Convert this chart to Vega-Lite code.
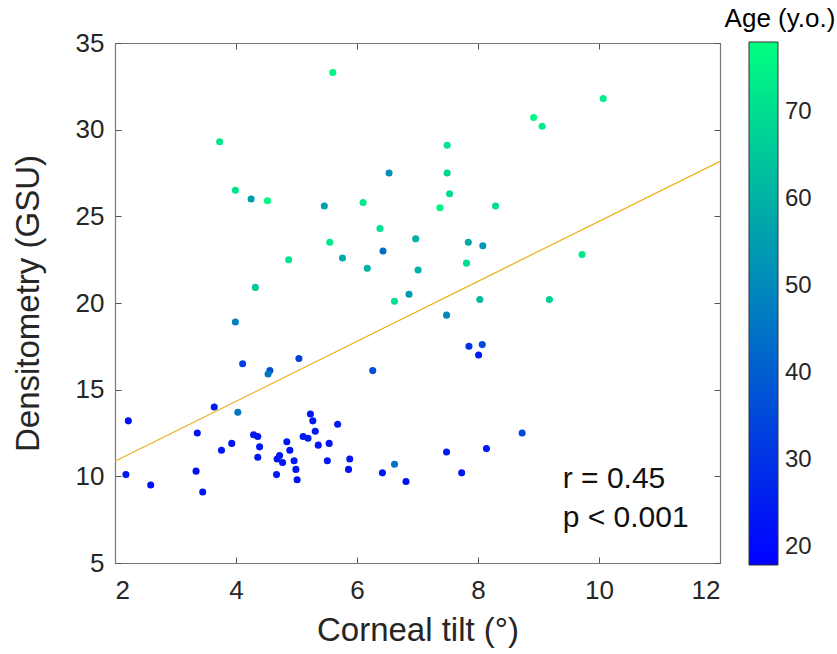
{
  "$schema": "https://vega.github.io/schema/vega-lite/v6.json",
  "width": 605,
  "height": 520,
  "autosize": {"type": "none"},
  "padding": {"left": 115, "top": 43, "right": 117, "bottom": 91},
  "background": "white",
  "config": {
    "view": {"stroke": null},
    "font": "Liberation Sans",
    "axis": {
      "grid": false,
      "domainColor": "#777777",
      "domainWidth": 1.2,
      "tickColor": "#555555",
      "tickSize": -6,
      "labelColor": "#262626",
      "titleColor": "#262626",
      "labelFont": "Liberation Sans",
      "titleFont": "Liberation Sans",
      "titleFontWeight": "normal",
      "labelFontSize": 26,
      "titleFontSize": 33
    },
    "legend": {
      "labelFont": "Liberation Sans",
      "titleFont": "Liberation Sans"
    }
  },
  "datasets": {
    "points": [
      {"tilt": 5.60, "dens": 33.3, "age": 75},
      {"tilt": 3.73, "dens": 29.3, "age": 72},
      {"tilt": 3.99, "dens": 26.5, "age": 72},
      {"tilt": 4.25, "dens": 26.0, "age": 55},
      {"tilt": 4.52, "dens": 25.9, "age": 77},
      {"tilt": 5.46, "dens": 25.6, "age": 56},
      {"tilt": 6.10, "dens": 25.8, "age": 73},
      {"tilt": 6.53, "dens": 27.5, "age": 52},
      {"tilt": 6.38, "dens": 24.3, "age": 71},
      {"tilt": 5.55, "dens": 23.5, "age": 73},
      {"tilt": 6.97, "dens": 23.7, "age": 60},
      {"tilt": 6.43, "dens": 23.0, "age": 44},
      {"tilt": 4.87, "dens": 22.5, "age": 72},
      {"tilt": 5.76, "dens": 22.6, "age": 58},
      {"tilt": 6.17, "dens": 22.0, "age": 60},
      {"tilt": 7.01, "dens": 21.9, "age": 60},
      {"tilt": 4.32, "dens": 20.9, "age": 65},
      {"tilt": 6.62, "dens": 20.1, "age": 70},
      {"tilt": 6.86, "dens": 20.5, "age": 54},
      {"tilt": 10.07, "dens": 31.8, "age": 74},
      {"tilt": 8.92, "dens": 30.7, "age": 77},
      {"tilt": 9.06, "dens": 30.2, "age": 74},
      {"tilt": 7.49, "dens": 29.1, "age": 72},
      {"tilt": 7.49, "dens": 27.5, "age": 68},
      {"tilt": 7.53, "dens": 26.3, "age": 70},
      {"tilt": 7.37, "dens": 25.5, "age": 76},
      {"tilt": 8.29, "dens": 25.6, "age": 70},
      {"tilt": 7.84, "dens": 23.5, "age": 58},
      {"tilt": 8.08, "dens": 23.3, "age": 54},
      {"tilt": 7.81, "dens": 22.3, "age": 70},
      {"tilt": 9.72, "dens": 22.8, "age": 73},
      {"tilt": 8.03, "dens": 20.2, "age": 62},
      {"tilt": 9.18, "dens": 20.2, "age": 68},
      {"tilt": 3.99, "dens": 18.9, "age": 48},
      {"tilt": 4.11, "dens": 16.5, "age": 33},
      {"tilt": 4.56, "dens": 16.1, "age": 36},
      {"tilt": 4.53, "dens": 15.9, "age": 46},
      {"tilt": 5.04, "dens": 16.8, "age": 33},
      {"tilt": 6.26, "dens": 16.1, "age": 36},
      {"tilt": 2.22, "dens": 13.2, "age": 22},
      {"tilt": 3.64, "dens": 14.0, "age": 24},
      {"tilt": 4.03, "dens": 13.7, "age": 46},
      {"tilt": 3.36, "dens": 12.5, "age": 22},
      {"tilt": 2.18, "dens": 10.1, "age": 24},
      {"tilt": 2.59, "dens": 9.5, "age": 22},
      {"tilt": 3.34, "dens": 10.3, "age": 22},
      {"tilt": 3.45, "dens": 9.1, "age": 23},
      {"tilt": 3.76, "dens": 11.5, "age": 23},
      {"tilt": 3.93, "dens": 11.9, "age": 23},
      {"tilt": 4.29, "dens": 12.4, "age": 24},
      {"tilt": 4.36, "dens": 12.3, "age": 23},
      {"tilt": 4.39, "dens": 11.7, "age": 23},
      {"tilt": 4.36, "dens": 11.1, "age": 24},
      {"tilt": 4.67, "dens": 10.1, "age": 23},
      {"tilt": 4.68, "dens": 11.0, "age": 22},
      {"tilt": 4.72, "dens": 11.2, "age": 23},
      {"tilt": 4.77, "dens": 10.8, "age": 23},
      {"tilt": 4.84, "dens": 12.0, "age": 24},
      {"tilt": 4.89, "dens": 11.5, "age": 22},
      {"tilt": 4.96, "dens": 10.9, "age": 23},
      {"tilt": 4.99, "dens": 10.4, "age": 23},
      {"tilt": 5.01, "dens": 9.8, "age": 22},
      {"tilt": 5.11, "dens": 12.3, "age": 24},
      {"tilt": 5.19, "dens": 12.2, "age": 25},
      {"tilt": 5.23, "dens": 13.6, "age": 24},
      {"tilt": 5.27, "dens": 13.2, "age": 23},
      {"tilt": 5.31, "dens": 12.6, "age": 24},
      {"tilt": 5.36, "dens": 11.8, "age": 23},
      {"tilt": 5.54, "dens": 11.9, "age": 23},
      {"tilt": 5.51, "dens": 10.9, "age": 24},
      {"tilt": 5.68, "dens": 13.0, "age": 24},
      {"tilt": 5.88, "dens": 11.0, "age": 23},
      {"tilt": 5.86, "dens": 10.4, "age": 22},
      {"tilt": 6.42, "dens": 10.2, "age": 23},
      {"tilt": 6.62, "dens": 10.7, "age": 45},
      {"tilt": 6.81, "dens": 9.7, "age": 22},
      {"tilt": 7.48, "dens": 19.3, "age": 50},
      {"tilt": 7.85, "dens": 17.5, "age": 30},
      {"tilt": 8.07, "dens": 17.6, "age": 36},
      {"tilt": 8.01, "dens": 17.0, "age": 24},
      {"tilt": 8.73, "dens": 12.5, "age": 35},
      {"tilt": 7.48, "dens": 11.4, "age": 25},
      {"tilt": 8.14, "dens": 11.6, "age": 24},
      {"tilt": 7.73, "dens": 10.2, "age": 23}
    ],
    "fit": [
      {"tilt": 2, "dens": 10.87},
      {"tilt": 12, "dens": 28.17}
    ],
    "labels": [
      {"tilt": 9.40, "dens": 9.3, "label": "r = 0.45"},
      {"tilt": 9.40, "dens": 7.07, "label": "p < 0.001"}
    ]
  },
  "layer": [
    {
      "data": {"name": "points"},
      "mark": {"type": "circle", "size": 50, "opacity": 1},
      "encoding": {
        "x": {
          "field": "tilt", "type": "quantitative",
          "scale": {"domain": [2, 12], "nice": false, "zero": false},
          "axis": {"values": [2, 4, 6, 8, 10, 12], "title": "Corneal tilt (°)", "labelPadding": 20, "titlePadding": 11}
        },
        "y": {
          "field": "dens", "type": "quantitative",
          "scale": {"domain": [5, 35], "nice": false, "zero": false},
          "axis": {"values": [5, 10, 15, 20, 25, 30, 35], "title": "Densitometry (GSU)", "labelPadding": 17, "titlePadding": 30}
        },
        "color": {
          "field": "age", "type": "quantitative",
          "scale": {"domain": [17.9, 78.1], "range": ["#0000ff", "#00ff80"], "interpolate": "rgb"},
          "legend": {
            "title": "Age (y.o.)",
            "orient": "none",
            "legendX": 610,
            "legendY": -37,
            "direction": "vertical",
            "gradientLength": 523,
            "gradientThickness": 29,
            "gradientStrokeColor": "#333333",
            "gradientStrokeWidth": 1,
            "values": [20, 30, 40, 50, 60, 70],
            "labelOverlap": false,
            "labelFontSize": 24,
            "labelOffset": 7,
            "labelColor": "#262626",
            "titleFontSize": 26,
            "titleFontWeight": "normal",
            "titleColor": "#000000",
            "titleAnchor": "middle",
            "titleAlign": "center",
            "titlePadding": 10,
            "titleLimit": 300,
            "padding": 0
          }
        }
      }
    },
    {
      "data": {"name": "fit"},
      "mark": {"type": "line", "color": "#EDB120", "strokeWidth": 1.2},
      "encoding": {
        "x": {
          "field": "tilt", "type": "quantitative",
          "scale": {"domain": [2, 12], "nice": false, "zero": false},
          "axis": {"orient": "top", "labels": false, "title": null, "values": [2, 4, 6, 8, 10, 12]}
        },
        "y": {
          "field": "dens", "type": "quantitative",
          "scale": {"domain": [5, 35], "nice": false, "zero": false},
          "axis": {"orient": "right", "labels": false, "title": null, "values": [5, 10, 15, 20, 25, 30, 35]}
        }
      }
    },
    {
      "data": {"name": "labels"},
      "mark": {"type": "text", "align": "left", "baseline": "alphabetic", "fontSize": 30, "color": "#111111", "font": "Liberation Sans"},
      "encoding": {
        "x": {"field": "tilt", "type": "quantitative", "axis": null},
        "y": {"field": "dens", "type": "quantitative", "axis": null},
        "text": {"field": "label"}
      }
    }
  ],
  "resolve": {"axis": {"x": "independent", "y": "independent"}}
}
